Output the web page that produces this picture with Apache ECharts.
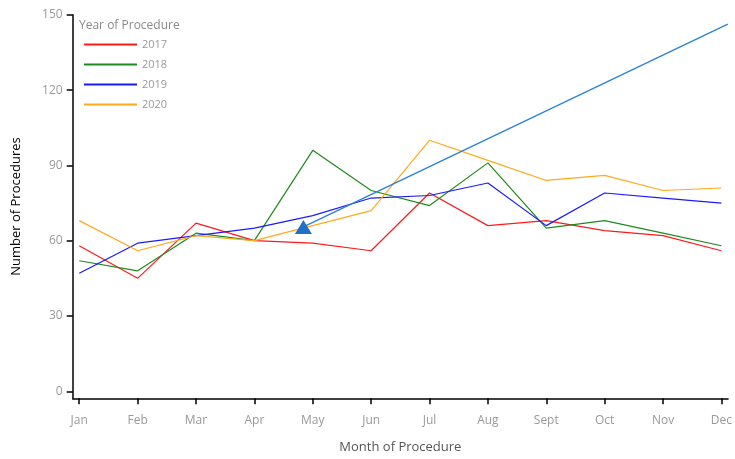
<!DOCTYPE html>
<html>
<head>
<meta charset="utf-8">
<title>Number of Procedures by Month</title>
<script src="https://cdn.jsdelivr.net/npm/echarts@6/dist/echarts.min.js"></script>
<style>
    html, body { margin: 0; padding: 0; background: #fff; }
    #chart { width: 735px; height: 459px; }
</style>
</head>
<body>
<div id="chart"></div>
<script>
// data
var months = ['Jan', 'Feb', 'Mar', 'Apr', 'May', 'Jun', 'Jul', 'Aug', 'Sept', 'Oct', 'Nov', 'Dec'];
var yTicks = [0, 30, 60, 90, 120, 150];
var years = ['2017', '2018', '2019', '2020'];
var v2017 = [58, 45, 67, 60, 59, 56, 79, 66, 68, 64, 62, 56];
var v2018 = [52, 48, 63, 60, 96, 80, 74, 91, 65, 68, 63, 58];
var v2019 = [47, 59, 62, 65, 70, 77, 78, 83, 66, 79, 77, 75];
var v2020 = [68, 56, 62, 60, 66, 72, 100, 92, 84, 86, 80, 81];
// trend arrow (start at triangle, end at right edge)
var trendX = [3.84, 11.11];
var trendY = [65.5, 146.3];

var colors = ['#ff1a1a', '#1f8a1f', '#1a1aff', '#ffaa1a'];
var font = '"Open Sans", "Noto Sans", sans-serif';

function pairs(xs, ys) {
    var out = [];
    for (var i = 0; i < ys.length; i++) {
        out.push([xs ? xs[i] : i, ys[i]]);
    }
    return out;
}

var allValues = [v2017, v2018, v2019, v2020];
var series = [];
for (var k = 0; k < years.length; k++) {
    series.push({
        name: years[k],
        type: 'line',
        data: pairs(null, allValues[k]),
        symbol: 'none',
        lineStyle: { color: colors[k], width: 1.2 },
        itemStyle: { color: colors[k] },
        z: 2
    });
}
series.push({
    name: 'trend',
    type: 'line',
    data: pairs(trendX, trendY),
    symbol: function(val, params) { return params.dataIndex === 0 ? 'triangle' : 'none'; },
    symbolSize: [17, 14],
    showAllSymbol: true,
    lineStyle: { color: '#2b84d6', width: 1.4 },
    itemStyle: { color: '#1f70c6' },
    z: 3
});

var chart = echarts.init(document.getElementById('chart'));

chart.setOption({
    animation: false,
    textStyle: { fontFamily: font },
    grid: { left: 72.7, right: 0, top: 14.8, bottom: 60.7 },
    graphic: [{
        type: 'text',
        left: 79,
        top: 20,
        style: { text: 'Year of Procedure', fill: '#8a8a8a', font: '12px ' + font }
    }],
    legend: {
        data: years,
        orient: 'vertical',
        left: 79,
        top: 34,
        itemWidth: 53,
        itemHeight: 2,
        itemGap: 9,
        icon: 'rect',
        textStyle: { color: '#999', fontSize: 11, fontFamily: font }
    },
    xAxis: {
        type: 'value',
        min: -0.112,
        max: 11.114,
        name: 'Month of Procedure',
        nameLocation: 'middle',
        nameGap: 42,
        nameTextStyle: { color: '#555', fontSize: 13 },
        axisLine: { onZero: false, lineStyle: { color: '#000', width: 1.5 } },
        axisTick: { length: 6, lineStyle: { color: '#000', width: 1.5 }, customValues: months.map(function(m, i) { return i; }) },
        axisLabel: {
            color: '#999', fontSize: 12, margin: 16,
            customValues: months.map(function(m, i) { return i; }),
            formatter: function(v) { return months[Math.round(v)]; }
        },
        splitLine: { show: false }
    },
    yAxis: {
        type: 'value',
        min: -2.79,
        max: 150,
        name: 'Number of Procedures',
        nameLocation: 'middle',
        nameGap: 50,
        nameTextStyle: { color: '#000', fontSize: 13 },
        axisLine: { show: true, onZero: false, lineStyle: { color: '#000', width: 1.5 } },
        axisTick: { show: true, length: 6, lineStyle: { color: '#000', width: 1.5 }, customValues: yTicks },
        axisLabel: { color: '#999', fontSize: 12, margin: 10, customValues: yTicks },
        splitLine: { show: false }
    },
    series: series
});
</script>
</body>
</html>
